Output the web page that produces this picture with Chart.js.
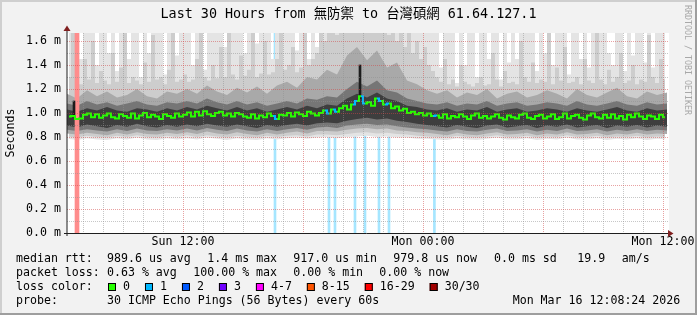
<!DOCTYPE html>
<html>
<head>
<meta charset="utf-8">
<script src="https://cdn.jsdelivr.net/npm/chart.js@4.4.1/dist/chart.umd.min.js"></script>
<style>
  html, body { margin: 0; padding: 0; background: #f2f2f2; }
  canvas { display: block; }
</style>
</head>
<body>
<canvas id="smokeChart" width="697" height="315"></canvas>
<script>
// time axis is in hours counted from Sun 00:00
const fineStart = 6.3, fineStep = 0.2;     // 12 min columns
const coarseStart = 6.2, coarseStep = 0.5; // 30 min columns

// median rtt (ms), one value per 12 min
const medianRtt = [
  0.97,0.975,0.95,0.955,0.985,0.995,0.965,0.99,0.96,0.98,0.995,0.965,0.955,0.99,0.975,0.96,0.995,0.955,0.98,1.0,
  0.965,0.985,0.97,0.95,0.99,0.975,0.96,0.995,0.97,
  0.985,1.005,0.97,1.01,0.98,1.015,0.99,0.975,1.0,1.01,0.98,0.995,0.97,1.0,0.99,0.97,
  0.96,0.99,0.955,0.98,0.965,0.995,0.975,0.95,0.985,
  0.98,1.0,0.97,1.005,0.99,0.975,1.01,0.995,0.98,
  1.0,1.02,0.995,1.03,1.01,
  1.04,1.06,1.03,1.07,
  1.1,1.14,1.08,
  1.09,1.06,1.12,1.1,1.07,1.08,1.04,1.055,1.02,1.035,1.0,1.01,0.99,1.0,0.98,0.995,0.975,
  0.98,0.96,0.99,0.955,0.975,0.965,0.99,0.97,0.95,0.98,0.995,0.96,0.975,0.955,
  0.97,0.99,0.96,0.945,0.98,0.965,0.955,0.985,0.995,0.96,0.95,0.975,0.985,0.955,
  0.97,0.99,0.95,0.965,0.995,0.955,0.975,0.985,0.96,0.945,0.98,0.995,0.965,0.955,0.985,
  0.96,0.99,0.955,0.975,0.945,0.985,0.965,0.995,0.97,0.95,0.98,0.97,0.95,0.985,0.965
];

// highest ping per 12 min (values above the top are clipped)
const maxRtt = [
  1.70,1.70,1.70,1.45,1.70,1.70,1.70,1.40,1.70,1.70, 1.50,1.70,1.35,1.70,1.70,1.45,1.70,1.70,1.30,1.70,
  1.50,1.70,1.70,1.70,1.32,1.70,1.70,1.48,1.70,1.70, 1.70,1.40,1.70,1.70,1.36,1.70,1.70,1.70,1.70,1.55,
  1.70,1.70,1.70,1.70,1.50,1.70,1.70,1.58,1.70,1.70, 1.70,1.45,1.70,1.70,1.70,1.70,1.70,1.52,1.70,1.70,
  1.45,1.70,1.55,1.70,1.70,1.70,1.70,1.70,1.70,1.70, 1.70,1.70,1.70,1.70,1.70,1.70,1.70,1.70,1.70,1.70,
  1.70,1.70,1.70,1.70,1.70,1.70,1.70,1.70,1.70,1.70, 1.70,1.70,1.70,1.38,1.70,1.70,1.70,1.25,1.70,1.40,
  1.70,1.70,1.30,1.70,1.70,1.45,1.70,1.70,1.28,1.70, 1.42,1.70,1.45,1.70,1.70,1.70,1.70,1.35,1.70,1.50,
  1.70,1.40,1.70,1.70,1.70,1.32,1.70,1.70,1.45,1.70, 1.38,1.70,1.70,1.70,1.70,1.50,1.40,1.70,1.70,1.35,
  1.70,1.48,1.70,1.70,1.42,1.70,1.38,1.70,1.70,1.70
];

// upper edge of the light smoke, per 12 min
const upperLight = [
  1.30,1.70,1.26,1.24,1.45,1.28,1.60,1.25,1.35,1.27,1.24,1.50,1.26,1.38,1.70,1.25,1.30,1.27,1.24,1.42,
  1.26,1.65,1.28,1.30,1.24,1.36,1.70,1.26,1.28,
  1.32,1.26,1.28,1.45,1.70,1.30,1.27,1.40,1.29,1.55,1.30,1.70,1.32,1.28,1.48,1.31,1.36,1.70,1.30,1.33,
  1.60,1.32,1.34,1.45,1.70,1.36,1.40,1.55,1.34,1.38,1.70,1.40,1.45,1.50,
  1.70,1.60,1.70,1.70,1.65,1.70,1.70,1.70,1.70,1.70,1.70,1.70,1.70,1.70,1.70,1.70,1.70,1.65,1.70,1.60,
  1.70,1.55,1.70,1.50,1.60,1.45,1.55,1.40,
  1.35,1.30,1.26,1.45,1.24,1.28,1.22,1.40,1.26,1.24,
  1.22,1.25,1.30,1.23,1.24,1.50,1.28,1.22,1.35,1.25,
  1.26,1.24,1.60,1.30,1.26,1.42,1.25,1.28,1.26,1.70,
  1.24,1.38,1.27,1.55,1.25,1.26,1.30,1.24,1.45,1.27,
  1.25,1.70,1.28,1.24,1.36,1.26,1.30,1.50,1.25,1.27,
  1.40,1.24,1.28,1.26,1.65,1.30,1.25,1.45,1.28
];

// smoke band edges, per 30 min
const upperMid = [
  1.16,1.12,1.19,1.14,1.18,1.13,1.15,1.20,1.14,1.12,1.18,1.16,
  1.20,1.16,1.23,1.18,1.15,1.21, 1.17,1.22,1.16,1.23, 1.26,1.21,1.30,1.28,
  1.36,1.32,1.48,1.55,1.44,1.52,1.38,1.42,1.27,1.24,1.19,
  1.16,1.19,1.13,1.17,1.15,1.20,1.12,1.16,1.18,1.13,1.15,1.19,1.16,1.12,1.20,1.15,1.13,1.17,1.21,1.14,
  1.12,1.18,1.15,1.17
];
const upperDark = [
  1.08,1.06,1.10,1.07,1.09,1.06,1.08,1.10,1.07,1.06,1.09,1.08,
  1.10,1.08,1.12,1.09,1.07,1.10, 1.07,1.09,1.06,1.08, 1.10,1.08,1.12,1.11,
  1.14,1.13,1.20,1.26,1.22,1.27,1.19,1.17,1.12,1.10,1.08,
  1.07,1.09,1.06,1.08,1.07,1.10,1.06,1.08,1.09,1.06,1.07,1.09,1.08,1.06,1.10,1.07,1.06,1.08,1.10,1.07,
  1.06,1.09,1.07,1.08
];
const upperCore = [
  1.03,1.01,1.04,1.02,1.05,1.02,1.01,1.04,1.03,1.01,1.04,1.02,
  1.05,1.03,1.06,1.04,1.02,1.05, 1.02,1.04,1.01,1.03, 1.05,1.03,1.06,1.04,
  1.07,1.06,1.12,1.16,1.13,1.17,1.12,1.10,1.06,1.05,1.03,
  1.02,1.04,1.01,1.03,1.02,1.05,1.01,1.03,1.04,1.01,1.02,1.04,1.03,1.01,1.04,1.02,1.01,1.03,1.05,1.02,
  1.01,1.04,1.02,1.03
];
const lowerCore = [
  0.895,0.88,0.905,0.89,0.875,0.90,0.885,0.91,0.89,0.88,0.90,0.885,
  0.905,0.89,0.91,0.895,0.885,0.905, 0.89,0.875,0.90,0.885, 0.90,0.91,0.895,0.915,
  0.92,0.915,0.935,0.95,0.96,0.945,0.955,0.935,0.925,0.91,0.90,
  0.89,0.88,0.90,0.885,0.875,0.895,0.905,0.88,0.89,0.90,0.875,0.895,0.885,0.905,0.88,0.89,0.90,0.875,0.895,0.885,
  0.90,0.88,0.895,0.885
];
const lowerDark = [
  0.86,0.85,0.865,0.855,0.845,0.865,0.85,0.87,0.855,0.85,0.865,0.855,
  0.87,0.855,0.875,0.86,0.85,0.87, 0.855,0.845,0.865,0.85, 0.865,0.875,0.86,0.88,
  0.885,0.875,0.895,0.905,0.91,0.90,0.905,0.89,0.88,0.87,0.865,
  0.855,0.845,0.865,0.85,0.845,0.86,0.87,0.85,0.855,0.865,0.845,0.86,0.85,0.87,0.85,0.855,0.865,0.845,0.86,0.85,
  0.865,0.85,0.86,0.855
];
const lowerMid = [
  0.83,0.82,0.835,0.825,0.815,0.835,0.82,0.84,0.825,0.82,0.835,0.825,
  0.84,0.825,0.845,0.83,0.82,0.84, 0.825,0.815,0.835,0.82, 0.835,0.845,0.83,0.85,
  0.85,0.845,0.86,0.87,0.875,0.865,0.87,0.855,0.85,0.84,0.835,
  0.825,0.815,0.835,0.82,0.815,0.83,0.84,0.82,0.825,0.835,0.815,0.83,0.82,0.84,0.82,0.825,0.835,0.815,0.83,0.82,
  0.835,0.82,0.83,0.825
];
const lowerLight = [
  0.805,0.795,0.81,0.80,0.795,0.81,0.80,0.815,0.80,0.795,0.81,0.80,
  0.815,0.80,0.815,0.805,0.795,0.81, 0.80,0.795,0.81,0.80, 0.81,0.815,0.805,0.82,
  0.82,0.815,0.825,0.835,0.84,0.83,0.835,0.825,0.82,0.81,0.805,
  0.80,0.795,0.81,0.80,0.795,0.805,0.815,0.80,0.80,0.81,0.795,0.805,0.80,0.815,0.80,0.80,0.81,0.795,0.805,0.80,
  0.81,0.795,0.805,0.80
];
const minRtt = [
  0.785,0.775,0.79,0.78,0.775,0.79,0.78,0.795,0.78,0.775,0.79,0.78,
  0.79,0.78,0.795,0.785,0.775,0.79, 0.78,0.775,0.79,0.78, 0.79,0.795,0.785,0.795,
  0.80,0.79,0.80,0.805,0.81,0.80,0.805,0.795,0.795,0.785,0.785,
  0.78,0.775,0.79,0.78,0.775,0.785,0.795,0.78,0.78,0.79,0.775,0.785,0.78,0.795,0.78,0.78,0.79,0.775,0.785,0.78,
  0.79,0.775,0.785,0.78
];

// packet loss events (hour, lost pings of 30)
const lossTimes = [6.6, 16.45, 19.15, 19.45, 20.45, 20.95, 21.65, 22.15, 24.42];
const lossCounts = [20, 1, 1, 1, 1, 1, 1, 1, 1];
// single steps where all pings sat high
const spikeTimes = [6.6, 20.9];
const spikeLow = [0.97, 1.12];
const spikeHigh = [1.10, 1.40];

const lossColors = ['#26ff00', '#00b8ff', '#0059ff', '#7000ff', '#ff00ff', '#ff5500', '#ff0000', '#a10000'];
const lossLabels = ['0', '1', '2', '3', '4-7', '8-15', '16-29', '30/30'];
const lossBucketMax = [0, 1, 2, 3, 7, 15, 29, 30];

const xTickHours = [12, 24, 36];
const xTickLabels = ['Sun 12:00', 'Mon 00:00', 'Mon 12:00'];
const yTickValues = [0, 0.2, 0.4, 0.6, 0.8, 1.0, 1.2, 1.4, 1.6];
const yTickLabels = ['0.0 m', '0.2 m', '0.4 m', '0.6 m', '0.8 m', '1.0 m', '1.2 m', '1.4 m', '1.6 m'];

const axisStart = 6.2, axisEnd = 36.3, yTop = 1.6667;
const monoFont = "'DejaVu Sans Mono', monospace";

const fineTimes = medianRtt.map((_, i) => +(fineStart + fineStep * i).toFixed(2));
const coarseTimes = minRtt.map((_, j) => +(coarseStart + coarseStep * j).toFixed(2));
const pts = (times, vals) => vals.map((v, i) => ({x: times[i], y: v}));

const bucketOf = n => lossBucketMax.findIndex(m => n <= m);
const tint = (hex, a) => {
  const n = parseInt(hex.slice(1), 16);
  const c = [(n >> 16) & 255, (n >> 8) & 255, n & 255].map(v => Math.round(255 - (255 - v) * a));
  return 'rgb(' + c.join(',') + ')';
};

// loss per median column, for colouring the median line
const lossAtColumn = medianRtt.map(() => 0);
lossTimes.forEach((t, k) => {
  const i = Math.round((t - fineStart) / fineStep);
  if (i >= 0 && i < lossAtColumn.length) lossAtColumn[i] = Math.max(lossAtColumn[i], lossCounts[k]);
});

const heavyLoss = [], lightLoss = [];
lossTimes.forEach((t, k) => {
  const p = {x: t, y: 1, n: lossCounts[k]};
  (lossCounts[k] >= 16 ? heavyLoss : lightLoss).push(p);
});

// fine series are drawn as columns, coarse band edges as plain lines
const smoke = {type: 'line', pointRadius: 0, borderWidth: 0, tension: 0, xAxisID: 'x', yAxisID: 'y'};
const column = {...smoke, stepped: 'middle'};
const hiddenX = {type: 'linear', min: axisStart, max: axisEnd, display: false, offset: false, grid: {offset: false}};

// background, bevel and white canvas like rrdtool
const frame = {
  id: 'frame',
  beforeDraw(chart) {
    const {ctx, width, height, chartArea: a} = chart;
    ctx.save();
    ctx.fillStyle = '#f2f2f2';
    ctx.fillRect(0, 0, width, height);
    ctx.fillStyle = '#cfcfcf';
    ctx.fillRect(0, 0, width, 2);
    ctx.fillRect(0, 0, 2, height);
    ctx.fillStyle = '#9e9e9e';
    ctx.fillRect(0, height - 2, width, 2);
    ctx.fillRect(width - 2, 0, 2, height);
    ctx.fillStyle = '#ffffff';
    ctx.fillRect(a.left, a.top, a.right - a.left, a.bottom - a.top);
    ctx.restore();
  }
};

// axes, arrows, title and the legend block under the plot
const annotations = {
  id: 'annotations',
  afterDraw(chart) {
    const {ctx, width, chartArea: a} = chart;
    ctx.save();
    ctx.strokeStyle = '#1f1f1f';
    ctx.lineWidth = 1;
    ctx.beginPath();
    ctx.moveTo(a.left - 3, a.bottom + 0.5);
    ctx.lineTo(a.right, a.bottom + 0.5);
    ctx.moveTo(a.left, a.bottom + 3);
    ctx.lineTo(a.left, a.top - 3);
    ctx.stroke();
    ctx.fillStyle = '#801f1f';
    ctx.beginPath();
    ctx.moveTo(a.right + 4.5, a.bottom + 0.5);
    ctx.lineTo(a.right - 1, a.bottom - 3);
    ctx.lineTo(a.right - 1, a.bottom + 4);
    ctx.fill();
    ctx.beginPath();
    ctx.moveTo(a.left, a.top - 7.5);
    ctx.lineTo(a.left - 3.5, a.top - 2);
    ctx.lineTo(a.left + 3.5, a.top - 2);
    ctx.fill();

    ctx.fillStyle = '#000';
    ctx.textBaseline = 'middle';
    ctx.textAlign = 'center';
    ctx.font = "13.4px 'DejaVu Sans Mono', 'Noto Sans CJK TC', monospace";
    ctx.fillText('Last 30 Hours from 無防禦 to 台灣碩網 61.64.127.1', width / 2, 14.5);

    ctx.font = '11.6px ' + monoFont;
    ctx.save();
    ctx.translate(11, (a.top + a.bottom) / 2);
    ctx.rotate(-Math.PI / 2);
    ctx.fillText('Seconds', 0, 0);
    ctx.restore();

    ctx.save();
    ctx.fillStyle = '#a8a8a8';
    ctx.font = '8.3px ' + monoFont;
    ctx.textAlign = 'left';
    ctx.translate(687, 5);
    ctx.rotate(Math.PI / 2);
    ctx.fillText('RRDTOOL / TOBI OETIKER', 0, 0);
    ctx.restore();

    ctx.textAlign = 'left';
    ctx.font = '11.6px ' + monoFont;
    const rows = [
      [259, [[16, 'median rtt:'], [107, '989.6 us avg'], [207.3, '1.4 ms max'], [293.3, '917.0 us min'],
             [393.3, '979.8 us now'], [494, '0.0 ms sd'], [577.3, '19.9'], [621.7, 'am/s']]],
      [273.3, [[16, 'packet loss:'], [107, '0.63 % avg'], [193.3, '100.00 % max'], [293.3, '0.00 % min'],
               [379.3, '0.00 % now']]],
      [287, [[16, 'loss color:']]],
      [301, [[16, 'probe:'], [107, '30 ICMP Echo Pings (56 Bytes) every 60s'], [512.7, 'Mon Mar 16 12:08:24 2026']]]
    ];
    rows.forEach(([y, items]) => items.forEach(([x, s]) => ctx.fillText(s, x, y)));

    let bx = 108;
    lossLabels.forEach((label, k) => {
      ctx.fillStyle = lossColors[k];
      ctx.fillRect(bx, 283, 8, 8);
      ctx.strokeStyle = '#000';
      ctx.strokeRect(bx + 0.5, 283.5, 7, 7);
      ctx.fillStyle = '#000';
      ctx.fillText(label, bx + 15, 287);
      bx += 15 + ctx.measureText(label).width + 15;
    });
    ctx.restore();
  }
};

new Chart(document.getElementById('smokeChart'), {
  type: 'line',
  data: {
    datasets: [
      {...column, label: 'median rtt', data: pts(fineTimes, medianRtt), borderWidth: 2,
        borderColor: lossColors[0], fill: false, order: 0,
        segment: {
          borderColor: c => {
            const n = lossAtColumn[c.p0DataIndex];
            return n > 0 && n < 16 ? lossColors[bucketOf(n)] : undefined;
          }
        }},
      {type: 'bar', label: 'spike', xAxisID: 'xSpike', yAxisID: 'y',
        data: spikeTimes.map((t, k) => ({x: t, y: [spikeLow[k], spikeHigh[k]]})),
        backgroundColor: '#1c1c1c', barThickness: 2, borderWidth: 0, order: 1},
      {type: 'bar', label: 'heavy loss', xAxisID: 'xHeavy', yAxisID: 'yLoss', data: heavyLoss,
        backgroundColor: c => tint(lossColors[bucketOf(c.raw.n)], 0.45), barThickness: 4, borderWidth: 0, order: 2},
      {...smoke, label: 'core high', data: pts(coarseTimes, upperCore), fill: 4, backgroundColor: '#3e3e3e', order: 3},
      {...smoke, label: 'core low', data: pts(coarseTimes, lowerCore), fill: false, order: 3},
      {...smoke, label: 'dark high', data: pts(coarseTimes, upperDark), fill: 6, backgroundColor: '#767676', order: 4},
      {...smoke, label: 'dark low', data: pts(coarseTimes, lowerDark), fill: false, order: 4},
      {...smoke, label: 'mid high', data: pts(coarseTimes, upperMid), fill: 8, backgroundColor: '#a9a9a9', order: 5},
      {...smoke, label: 'mid low', data: pts(coarseTimes, lowerMid), fill: false, order: 5},
      {...column, label: 'light high', data: pts(fineTimes, upperLight), fill: 10, backgroundColor: '#cdcdcd', order: 6},
      {...smoke, label: 'light low', data: pts(coarseTimes, lowerLight), fill: false, order: 6},
      {...column, label: 'max', data: pts(fineTimes, maxRtt), fill: 12, backgroundColor: '#e4e4e4', order: 7},
      {...smoke, label: 'min', data: pts(coarseTimes, minRtt), fill: false, order: 7},
      {type: 'bar', label: 'loss', xAxisID: 'xLight', yAxisID: 'yLoss', data: lightLoss,
        backgroundColor: c => tint(lossColors[bucketOf(c.raw.n)], 0.35), barThickness: 2, borderWidth: 0, order: 8}
    ]
  },
  options: {
    responsive: false,
    animation: false,
    devicePixelRatio: 1,
    layout: {padding: {top: 33, right: 28, bottom: 0, left: 0}},
    plugins: {legend: {display: false}, tooltip: {enabled: false}},
    font: {family: monoFont, size: 11.6},
    scales: {
      x: {
        type: 'linear', min: axisStart, max: axisEnd, offset: false,
        afterFit: s => { s.height = 82; },
        border: {display: false, dash: [1, 1]},
        grid: {
          z: 1, offset: false, tickLength: 2, tickColor: 'rgba(0,0,0,0)',
          color: c => Math.round(c.tick.value) % 6 === 0 ? 'rgba(210,70,70,0.5)' : 'rgba(143,143,143,0.5)'
        },
        ticks: {
          stepSize: 1, includeBounds: false, autoSkip: false, maxRotation: 0, padding: 0,
          color: '#000', font: {family: monoFont, size: 11.6},
          callback: v => { const k = xTickHours.indexOf(Math.round(v)); return k >= 0 && Math.abs(v - xTickHours[k]) < 1e-6 ? xTickLabels[k] : ''; }
        }
      },
      y: {
        type: 'linear', min: 0, max: yTop,
        afterFit: s => { s.width = 67; },
        border: {display: false, dash: [1, 1]},
        grid: {
          z: 1, tickLength: 3, tickColor: 'rgba(0,0,0,0)',
          color: c => Math.round(c.tick.value * 10) % 2 === 0 ? 'rgba(210,70,70,0.5)' : 'rgba(143,143,143,0.5)'
        },
        ticks: {
          stepSize: 0.1, includeBounds: false, autoSkip: false, padding: 3,
          color: '#000', font: {family: monoFont, size: 11.6},
          callback: v => { const k = yTickValues.findIndex(t => Math.abs(t - v) < 1e-6); return k >= 0 ? yTickLabels[k] : ''; }
        }
      },
      xSpike: {...hiddenX},
      xHeavy: {...hiddenX},
      xLight: {...hiddenX},
      yLoss: {type: 'linear', min: 0, max: 1, display: false}
    }
  },
  plugins: [frame, annotations]
});
</script>
</body>
</html>
